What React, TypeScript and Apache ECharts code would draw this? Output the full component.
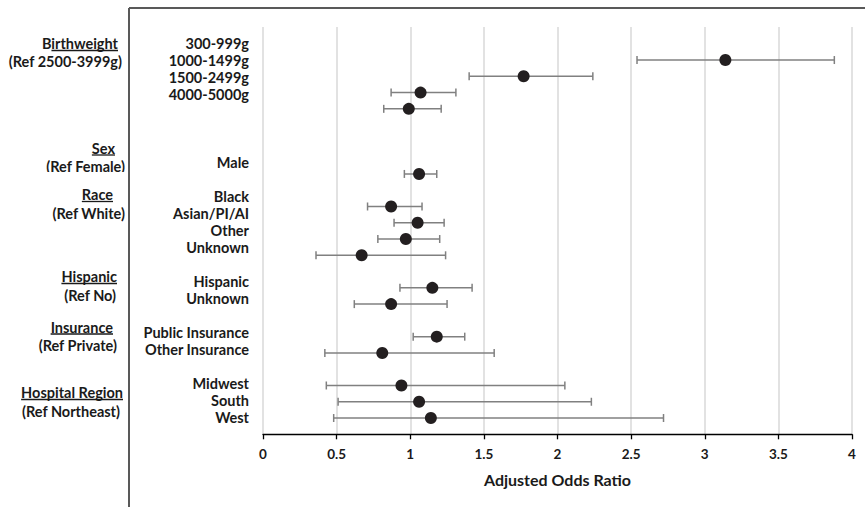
import React, { useEffect, useRef } from "react";
import * as echarts from "echarts";

const rowLabels: string[] = [
  "300-999g", "1000-1499g", "1500-2499g", "4000-5000g", "", "", "",
  "Male", "",
  "Black", "Asian/PI/AI", "Other", "Unknown", "",
  "Hispanic", "Unknown", "",
  "Public Insurance", "Other Insurance", "",
  "Midwest", "South", "West",
];

const pointRows: number[] = [0, 1, 2, 3, 7, 9, 10, 11, 12, 14, 15, 17, 18, 20, 21, 22];
const oddsRatio: number[] = [3.14, 1.77, 1.07, 0.99, 1.06, 0.87, 1.05, 0.97, 0.67, 1.15, 0.87, 1.18, 0.81, 0.94, 1.06, 1.14];
const lowerCI: number[] = [2.54, 1.40, 0.87, 0.82, 0.96, 0.71, 0.89, 0.78, 0.36, 0.93, 0.62, 1.02, 0.42, 0.43, 0.51, 0.48];
const upperCI: number[] = [3.88, 2.24, 1.31, 1.21, 1.18, 1.08, 1.23, 1.20, 1.24, 1.42, 1.25, 1.37, 1.57, 2.05, 2.23, 2.72];

const groupTitles: string[] = ["Birthweight", "Sex", "Race", "Hispanic", "Insurance", "Hospital Region"];
const groupRefs: string[] = ["(Ref 2500-3999g)", "(Ref Female)", "(Ref White)", "(Ref No)", "(Ref Private)", "(Ref Northeast)"];

const xTicks = { min: 0, max: 4, interval: 0.5 };
const xAxisName = "Adjusted Odds Ratio";

// layout for group labels: [titleRightX, titleY, refRightX, refY]
const groupLayout: number[][] = [
  [118, 43.5, 122, 61.5],
  [115, 148, 125, 166.5],
  [113, 194.5, 125, 213],
  [117, 276.5, 116, 295],
  [113, 327, 117, 345.5],
  [123, 392.5, 120, 411],
];

const FONT = "Lato, 'Open Sans', sans-serif";
const TXT = "#1a1a1a";
const LSIZE = 14.5;

function measure(text: string, size: number): number {
  const c = document.createElement("canvas");
  const ctx = c.getContext("2d");
  if (!ctx) return text.length * size * 0.5;
  ctx.font = `bold ${size}px Lato`;
  return ctx.measureText(text).width;
}

export default function App() {
  const ref = useRef<HTMLDivElement>(null);
  useEffect(() => {
    if (!ref.current) return;
    const chart = echarts.init(ref.current, undefined, { renderer: "svg" });
    const graphics: any[] = [
      { type: "line", shape: { x1: 129, y1: 8, x2: 865, y2: 8 }, style: { stroke: "#595959", lineWidth: 2 }, z: 10 },
      { type: "line", shape: { x1: 129, y1: 8, x2: 129, y2: 507 }, style: { stroke: "#595959", lineWidth: 2 }, z: 10 },
    ];
    groupTitles.forEach((t, i) => {
      const [tx, ty, rx, ry] = groupLayout[i];
      const w = measure(t, LSIZE);
      const skip = i === 0 ? measure("B", LSIZE) : 0;
      graphics.push({
        type: "text", x: tx, y: ty,
        style: { text: t, font: `bold ${LSIZE}px ${FONT}`, fill: TXT, align: "right", verticalAlign: "middle" },
      });
      graphics.push({
        type: "line", shape: { x1: tx - w + skip, y1: ty + 7, x2: tx, y2: ty + 7 },
        style: { stroke: TXT, lineWidth: 1.3 },
      });
      graphics.push({
        type: "text", x: rx, y: ry,
        style: { text: groupRefs[i], font: `bold ${LSIZE}px ${FONT}`, fill: TXT, align: "right", verticalAlign: "middle" },
      });
    });
    // clipped bottom of "(Ref Female)" text box
    graphics.push({ type: "rect", shape: { x: 20, y: 172, width: 108, height: 6 }, style: { fill: "#fff" }, z: 5 });

    const ebData = pointRows.map((r, i) => [lowerCI[i], upperCI[i], r]);
    const ptData = pointRows.map((r, i) => [oddsRatio[i], r]);

    chart.setOption({
      animation: false,
      grid: { left: 263, right: 13, top: 27, bottom: 72.7 },
      xAxis: {
        type: "value", min: xTicks.min, max: xTicks.max, interval: xTicks.interval,
        name: xAxisName, nameLocation: "middle", nameGap: 37,
        nameTextStyle: { fontFamily: FONT, fontWeight: "bold", fontSize: 16, color: TXT },
        axisLine: { show: true, onZero: false, lineStyle: { color: "#000", width: 1.3 } },
        axisTick: { show: true, length: 5, lineStyle: { color: "#000", width: 1.3 } },
        axisLabel: { margin: 13, fontFamily: FONT, fontWeight: "bold", fontSize: 13.5, color: TXT },
        splitLine: { show: true, lineStyle: { color: "#d9d9d9", width: 1.5 } },
      },
      yAxis: [
        { type: "value", min: -2.03, max: 23, inverse: true, show: false },
        {
          type: "value", min: -1, max: 23, interval: 1, inverse: true, position: "left",
          axisLine: { show: false, onZero: false }, axisTick: { show: false }, splitLine: { show: false },
          axisLabel: {
            margin: 14, fontFamily: FONT, fontWeight: "bold", fontSize: LSIZE, color: TXT,
            formatter: (v: number) => rowLabels[Math.round(v)] ?? "",
          },
        },
      ],
      series: [
        {
          type: "custom", yAxisIndex: 0, data: ebData, encode: { x: [0, 1], y: 2 }, z: 2,
          renderItem: (_p: any, api: any) => {
            const lo = api.coord([api.value(0), api.value(2)]);
            const hi = api.coord([api.value(1), api.value(2)]);
            const h = 4;
            const st = { stroke: "#808080", lineWidth: 1.5 };
            return {
              type: "group",
              children: [
                { type: "line", shape: { x1: lo[0], y1: lo[1], x2: hi[0], y2: hi[1] }, style: st },
                { type: "line", shape: { x1: lo[0], y1: lo[1] - h, x2: lo[0], y2: lo[1] + h }, style: st },
                { type: "line", shape: { x1: hi[0], y1: hi[1] - h, x2: hi[0], y2: hi[1] + h }, style: st },
              ],
            };
          },
        },
        {
          type: "scatter", yAxisIndex: 0, data: ptData, symbol: "circle", symbolSize: 12, z: 3,
          itemStyle: { color: "#231f20", opacity: 1 },
        },
      ],
      graphic: graphics,
    });
    return () => chart.dispose();
  }, []);
  return <div ref={ref} style={{ position: "fixed", left: 0, top: 0, width: 865, height: 507, background: "#fff" }} />;
}
